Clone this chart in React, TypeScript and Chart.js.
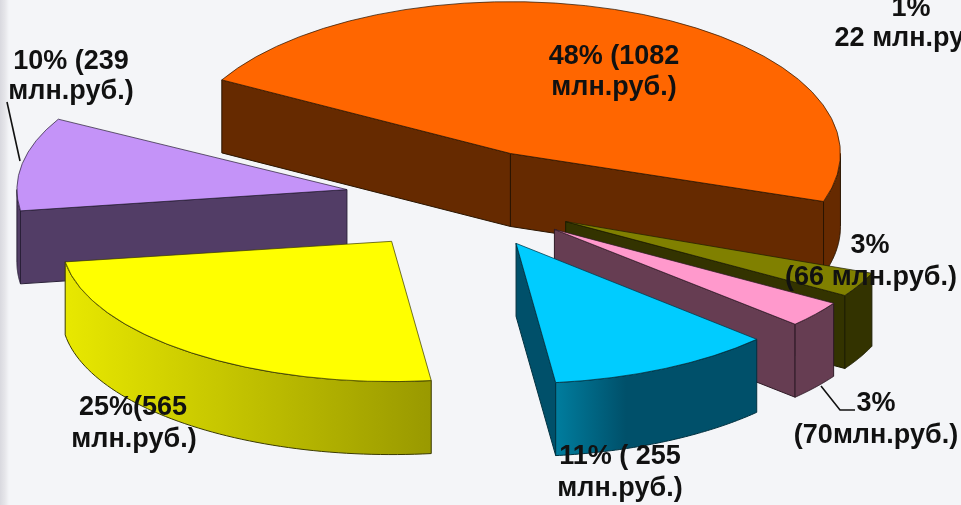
import React, { useEffect, useRef } from "react";
import { Chart, registerables } from "chart.js";

Chart.register(...registerables);

const categories = ["48%", "1%", "3% (66)", "3% (70)", "11%", "25%", "10%"];
const valuesMln = [1082, 22, 66, 70, 255, 565, 239];
const topColors = ["#FF6600", "rgba(0,0,0,0)", "#808000", "#FF99CC", "#00CCFF", "#FFFF00", "#C493F8"];
const edgeColors = ["#2a1500", "rgba(0,0,0,0)", "#1c1c00", "#2e1a26", "#00303f", "#3a3a00", "#2a2038"];
const wallLeft = ["#662A00", "", "#333300", "#663D52", "#007D9E", "#E8E800", "#523D66"];
const wallRight = ["#662A00", "", "#333300", "#663D52", "#00506A", "#999900", "#523D66"];
const wallFlatStop = [1, 1, 1, 1, 0.35, 1, 1];
const explodeBySlice = [113, 0, 113, 113, 113, 121, 120];
const tiltBySlice = [0.46, 0.44, 0.42, 0.42, 0.425, 0.425, 0.44];

const labelLines: [string, number, number][] = [
  ["48% (1082", 614, 57],
  ["млн.руб.)", 614, 88],
  ["1%", 911, 9],
  ["22 млн.руб.)", 916, 39],
  ["3%", 870, 246],
  ["(66 млн.руб.)", 871, 278],
  ["3%", 876, 404],
  ["(70млн.руб.)", 876, 436],
  ["11% ( 255", 620, 457],
  ["млн.руб.)", 620, 489],
  ["25%(565", 133, 408],
  ["млн.руб.)", 134, 440],
  ["10% (239", 71, 62],
  ["млн.руб.)", 71, 92],
];
const leaderLines: [number, number][][] = [
  [[7, 102], [20, 161]],
  [[821, 386], [840, 410], [855, 410]],
];

const explodeTilt = 0.44;
const screenCentreY = 199;
const wallHeight = 73;

const pie3d = {
  id: "pie3d",
  beforeDatasetDraw(chart: any) {
    const { ctx } = chart;
    const arcs: any[] = chart.getDatasetMeta(0).data;
    const order = arcs
      .map((arc, i) => ({ arc, i, mid: (arc.startAngle + arc.endAngle) / 2 }))
      .filter((o) => topColors[o.i] !== "rgba(0,0,0,0)")
      .sort((a, b) => Math.sin(a.mid) - Math.sin(b.mid));

    for (const { arc, i, mid } of order) {
      const dx = Math.cos(mid) * explodeBySlice[i];
      const dy = Math.sin(mid) * explodeBySlice[i];
      const cy = arc.y;
      const R = arc.outerRadius;
      const tilt = tiltBySlice[i];
      const apexY = screenCentreY + explodeTilt * dy;
      const pt = (a: number, r: number, h = 0): [number, number] => [
        arc.x + dx + r * Math.cos(a),
        apexY + tilt * r * Math.sin(a) + h,
      ];

      ctx.save();
      ctx.lineWidth = 1;
      ctx.strokeStyle = edgeColors[i];
      ctx.lineJoin = "round";

      // radial cut faces that look towards the viewer
      const faces: [number, number][] = [
        [arc.startAngle, arc.startAngle - Math.PI / 2],
        [arc.endAngle, arc.endAngle + Math.PI / 2],
      ];
      for (const [a, normal] of faces) {
        if (Math.sin(normal) <= 0) continue;
        const quad = [pt(a, 0), pt(a, R), pt(a, R, wallHeight), pt(a, 0, wallHeight)];
        ctx.beginPath();
        quad.forEach((p, k) => (k ? ctx.lineTo(p[0], p[1]) : ctx.moveTo(p[0], p[1])));
        ctx.closePath();
        ctx.fillStyle = wallRight[i];
        ctx.fill();
        ctx.stroke();
      }

      // outer curved wall, only where it faces the viewer
      const from = Math.max(arc.startAngle, 0);
      const to = Math.min(arc.endAngle, Math.PI);
      if (to > from) {
        const steps = 60;
        const top: [number, number][] = [];
        for (let s = 0; s <= steps; s++) top.push(pt(from + ((to - from) * s) / steps, R));
        const xs = top.map((p) => p[0]);
        const grad = ctx.createLinearGradient(Math.min(...xs), 0, Math.max(...xs), 0);
        grad.addColorStop(0, wallLeft[i]);
        grad.addColorStop(wallFlatStop[i], wallRight[i]);
        ctx.beginPath();
        top.forEach((p, k) => (k ? ctx.lineTo(p[0], p[1]) : ctx.moveTo(p[0], p[1])));
        for (let k = top.length - 1; k >= 0; k--) ctx.lineTo(top[k][0], top[k][1] + wallHeight);
        ctx.closePath();
        ctx.fillStyle = grad;
        ctx.fill();
        ctx.stroke();
      }
      ctx.restore();

      // top face, drawn by the library's own arc element
      ctx.save();
      ctx.translate(dx, apexY);
      ctx.scale(1, tilt);
      ctx.translate(0, -cy);
      arc.draw(ctx);
      ctx.restore();
    }
    return false;
  },
  afterDraw(chart: any) {
    const { ctx } = chart;
    ctx.save();
    ctx.strokeStyle = "#111";
    ctx.lineWidth = 1.6;
    for (const line of leaderLines) {
      ctx.beginPath();
      line.forEach((p, k) => (k ? ctx.lineTo(p[0], p[1]) : ctx.moveTo(p[0], p[1])));
      ctx.stroke();
    }
    ctx.fillStyle = "#111";
    ctx.font = 'bold 27px "Liberation Sans", Arial, sans-serif';
    ctx.textAlign = "center";
    ctx.textBaseline = "middle";
    for (const [text, x, y] of labelLines) ctx.fillText(text, x, y);
    ctx.restore();
  },
};

export default function App() {
  const ref = useRef<HTMLCanvasElement>(null);
  useEffect(() => {
    const chart = new Chart(ref.current!, {
      type: "pie",
      data: {
        labels: categories,
        datasets: [
          {
            data: valuesMln,
            backgroundColor: topColors,
            borderColor: edgeColors,
            borderWidth: 1,
          },
        ],
      },
      options: {
        responsive: false,
        animation: false,
        radius: 330,
        rotation: -61,
        layout: { padding: { right: 31 } },
        plugins: { legend: { display: false }, tooltip: { enabled: false } },
      } as any,
      plugins: [pie3d as any],
    });
    return () => chart.destroy();
  }, []);
  return (
    <div
      style={{
        position: "fixed",
        left: 0,
        top: 0,
        width: 961,
        height: 505,
        overflow: "hidden",
        background: "linear-gradient(90deg, #d9d9df 0px, #e6e6ea 5px, #f4f5f8 9px, #f4f5f8 100%)",
      }}
    >
      <canvas ref={ref} width={961} height={505} style={{ display: "block" }} />
    </div>
  );
}
